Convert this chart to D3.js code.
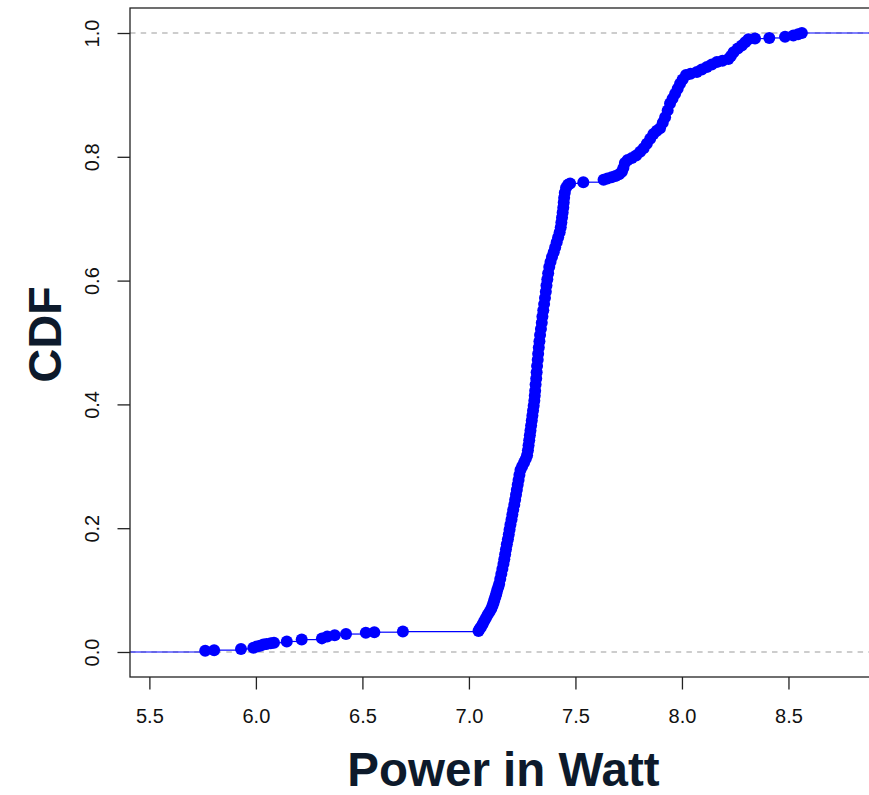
<!DOCTYPE html>
<html>
<head>
<meta charset="utf-8">
<script src="https://cdn.jsdelivr.net/npm/d3@7"></script>
<style>
  html, body { margin: 0; padding: 0; background: #ffffff; }
  svg { display: block; font-family: "Liberation Sans", Arial, Helvetica, sans-serif; }
</style>
</head>
<body>
<svg id="chart" width="869" height="795"></svg>
<script>
const power = [
  5.762, 5.804, 5.930, 5.988, 6.005, 6.020, 6.035, 6.050, 6.070, 6.085,
  6.145, 6.215, 6.310, 6.335, 6.370, 6.423, 6.516, 6.556, 6.690,
  7.045, 7.050, 7.056, 7.064, 7.072, 7.080, 7.088, 7.097, 7.105, 7.111,
  7.116, 7.120, 7.125, 7.129, 7.133, 7.138, 7.142, 7.147, 7.152, 7.157,
  7.162, 7.166, 7.170, 7.174, 7.178, 7.183, 7.187, 7.191, 7.195, 7.200,
  7.204, 7.208, 7.213, 7.217, 7.221, 7.225, 7.229, 7.233, 7.237, 7.242,
  7.250, 7.259, 7.267, 7.273, 7.277, 7.280, 7.283, 7.286, 7.289, 7.292,
  7.295, 7.298, 7.301, 7.304, 7.307, 7.309, 7.311, 7.313, 7.316, 7.318,
  7.320, 7.323, 7.325, 7.328, 7.331, 7.334, 7.338, 7.342, 7.345, 7.349,
  7.353, 7.357, 7.361, 7.364, 7.368, 7.372, 7.377, 7.383, 7.390, 7.398,
  7.405, 7.412, 7.419, 7.426, 7.431, 7.434, 7.437, 7.440, 7.443, 7.445,
  7.447, 7.450, 7.456, 7.465, 7.475,
  7.537, 7.632, 7.650, 7.670, 7.688, 7.705, 7.718, 7.725, 7.732, 7.745,
  7.765, 7.785, 7.804, 7.820, 7.835, 7.851, 7.866, 7.882, 7.897, 7.910,
  7.921, 7.933, 7.944, 7.956, 7.968, 7.980, 7.991, 8.003, 8.019, 8.040,
  8.070, 8.093, 8.117, 8.140, 8.164, 8.190, 8.218, 8.230, 8.242, 8.262,
  8.281, 8.297, 8.312, 8.343, 8.410, 8.484, 8.523, 8.545, 8.563
];
const cdf = [
  0.002, 0.003, 0.005, 0.007, 0.009, 0.010, 0.012, 0.013, 0.014, 0.015,
  0.017, 0.020, 0.022, 0.025, 0.027, 0.029, 0.031, 0.032, 0.033,
  0.034, 0.037, 0.040, 0.045, 0.050, 0.055, 0.060, 0.065, 0.070, 0.075,
  0.080, 0.085, 0.090, 0.095, 0.100, 0.105, 0.110, 0.118, 0.126, 0.134,
  0.142, 0.150, 0.158, 0.166, 0.174, 0.182, 0.190, 0.198, 0.206, 0.214,
  0.222, 0.230, 0.238, 0.246, 0.254, 0.262, 0.270, 0.278, 0.286, 0.294,
  0.300, 0.306, 0.312, 0.318, 0.326, 0.334, 0.342, 0.350, 0.358, 0.366,
  0.374, 0.382, 0.390, 0.398, 0.406, 0.414, 0.422, 0.432, 0.442, 0.452,
  0.462, 0.472, 0.482, 0.492, 0.502, 0.512, 0.522, 0.532, 0.542, 0.552,
  0.562, 0.572, 0.582, 0.592, 0.602, 0.612, 0.622, 0.630, 0.638, 0.646,
  0.654, 0.662, 0.670, 0.678, 0.686, 0.694, 0.702, 0.710, 0.718, 0.726,
  0.734, 0.742, 0.750, 0.755, 0.757,
  0.759, 0.763, 0.765, 0.767, 0.769, 0.772, 0.776, 0.782, 0.790, 0.795,
  0.798, 0.802, 0.808, 0.814, 0.821, 0.829, 0.837, 0.842, 0.846, 0.855,
  0.864, 0.875, 0.886, 0.894, 0.902, 0.910, 0.918, 0.925, 0.932, 0.934,
  0.937, 0.941, 0.945, 0.949, 0.953, 0.955, 0.958, 0.963, 0.969, 0.975,
  0.980, 0.985, 0.990, 0.991, 0.992, 0.994, 0.996, 0.998, 1.000
];
const xTicks = [5.5, 6.0, 6.5, 7.0, 7.5, 8.0, 8.5];
const yTicks = [0.0, 0.2, 0.4, 0.6, 0.8, 1.0];
const xDomain = [5.409, 8.925];
const yDomain = [-0.0404, 1.0404];
const xLabel = "Power in Watt";
const yLabel = "CDF";

// ---- layout ----
const svg = d3.select("#chart");
const plot = { left: 130, right: 879, top: 8, bottom: 677 };

const x = d3.scaleLinear().domain(xDomain).range([plot.left, plot.right]);
const y = d3.scaleLinear().domain(yDomain).range([plot.bottom, plot.top]);

svg.append("defs").append("clipPath").attr("id", "clip")
  .append("rect")
  .attr("x", plot.left).attr("y", plot.top)
  .attr("width", plot.right - plot.left).attr("height", plot.bottom - plot.top);

const g = svg.append("g").attr("clip-path", "url(#clip)");

// reference dashed lines at 0 and 1
g.selectAll("line.ref").data([0, 1]).enter().append("line")
  .attr("class", "ref")
  .attr("x1", plot.left).attr("x2", plot.right)
  .attr("y1", d => y(d)).attr("y2", d => y(d))
  .attr("stroke", "#bdbdbd").attr("stroke-width", 1.4)
  .attr("stroke-dasharray", "5.5,5.2");

// step segments
const pts = power.map((p, i) => ({ p, c: cdf[i] }));
const segs = [{ x0: xDomain[0], x1: pts[0].p, c: 0 }];
pts.forEach((d, i) => {
  const next = i < pts.length - 1 ? pts[i + 1].p : xDomain[1];
  segs.push({ x0: d.p, x1: next, c: d.c });
});
g.selectAll("line.step").data(segs).enter().append("line")
  .attr("class", "step")
  .attr("x1", d => x(d.x0)).attr("x2", d => x(d.x1))
  .attr("y1", d => y(d.c)).attr("y2", d => y(d.c))
  .attr("stroke", "#0000ff").attr("stroke-width", 1.2);

// points
g.selectAll("circle").data(pts).enter().append("circle")
  .attr("cx", d => x(d.p)).attr("cy", d => y(d.c))
  .attr("r", 6).attr("fill", "#0000ff");

// box
svg.append("rect")
  .attr("x", plot.left).attr("y", plot.top)
  .attr("width", plot.right - plot.left).attr("height", plot.bottom - plot.top)
  .attr("fill", "none").attr("stroke", "#222").attr("stroke-width", 1.3);

// x axis
const xAxis = d3.axisBottom(x).tickValues(xTicks).tickFormat(d3.format(".1f"))
  .tickSize(12.5).tickSizeOuter(0);
const xg = svg.append("g").attr("transform", `translate(0,${plot.bottom})`).call(xAxis);
xg.select(".domain").remove();
xg.selectAll(".tick line").attr("stroke", "#222").attr("stroke-width", 1.3);
xg.selectAll(".tick text").attr("font-size", 20).attr("fill", "#111")
  .attr("font-family", "Liberation Sans, Arial, sans-serif").attr("dy", "0.71em").attr("y", 32);

// y axis
const yAxis = d3.axisLeft(y).tickValues(yTicks).tickFormat(d3.format(".1f"))
  .tickSize(12.5).tickSizeOuter(0);
const yg = svg.append("g").attr("transform", `translate(${plot.left},0)`).call(yAxis);
yg.select(".domain").remove();
yg.selectAll(".tick line").attr("stroke", "#222").attr("stroke-width", 1.3);
yg.selectAll(".tick text")
  .attr("font-size", 20).attr("fill", "#111")
  .attr("font-family", "Liberation Sans, Arial, sans-serif")
  .attr("x", null).attr("dy", null)
  .attr("text-anchor", "middle")
  .attr("transform", "translate(-31,0) rotate(-90)");

// axis titles
svg.append("text")
  .attr("x", (plot.left + plot.right) / 2 - 1).attr("y", 786)
  .attr("text-anchor", "middle")
  .attr("font-size", 47.5).attr("font-weight", "bold").attr("fill", "#0d1a2b")
  .text(xLabel);

svg.append("text")
  .attr("transform", `translate(61,${(plot.top + plot.bottom) / 2 - 8}) rotate(-90)`)
  .attr("text-anchor", "middle")
  .attr("font-size", 47).attr("font-weight", "bold").attr("fill", "#0d1a2b")
  .text(yLabel);
</script>
</body>
</html>
